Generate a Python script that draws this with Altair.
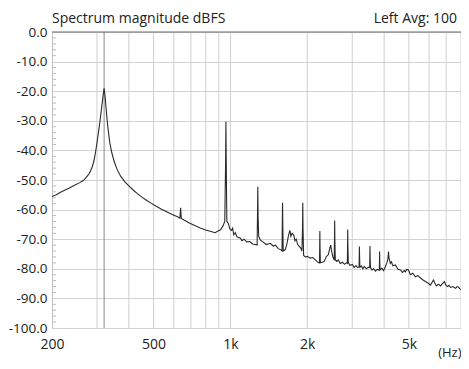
import altair as alt
import pandas as pd

# Spectrum (frequency in Hz, magnitude in dBFS)
freqs = [200, 208, 215, 225, 235, 245, 258, 265, 272, 280, 287, 292, 296, 300, 304, 308, 312, 316, 320,
         323, 326, 329, 333, 337, 343, 350, 360, 372, 386, 400, 415, 432, 450, 470, 490, 510, 535, 565,
         595, 620, 634, 638, 642, 660, 690, 725, 761, 800, 840, 870, 895, 915, 935, 950, 957, 960, 963,
         968, 980, 995, 1010, 1020, 1030, 1045, 1060, 1090, 1110, 1130, 1160, 1192, 1220, 1250, 1272,
         1277, 1280, 1283, 1290, 1310, 1340, 1380, 1432, 1470, 1500, 1540, 1575, 1592, 1596, 1600, 1604,
         1610, 1640, 1665, 1690, 1710, 1725, 1745, 1770, 1790, 1810, 1835, 1860, 1885, 1905, 1916, 1920,
         1924, 1935, 1964, 2000, 2055, 2100, 2150, 2200, 2233, 2237, 2240, 2243, 2250, 2290, 2330, 2370,
         2418, 2450, 2470, 2490, 2520, 2550, 2556, 2560, 2564, 2575, 2610, 2646, 2690, 2745, 2800, 2840,
         2870, 2876, 2880, 2884, 2895, 2940, 3004, 3050, 3100, 3150, 3190, 3195, 3200, 3205, 3215, 3260,
         3300, 3346, 3407, 3460, 3510, 3515, 3520, 3525, 3535, 3580, 3640, 3696, 3760, 3830, 3836, 3840,
         3844, 3855, 3920, 3980, 4040, 4100, 4140, 4160, 4180, 4230, 4271, 4330, 4427, 4530, 4633, 4720,
         4800, 4847, 4900, 4978, 5070, 5180, 5304, 5420, 5550, 5680, 5804, 5940, 6074, 6160, 6240, 6330,
         6412, 6530, 6648, 6770, 6892, 6990, 7081, 7180, 7274, 7440, 7610, 7720, 7820, 7920, 8000]
dbfs = [-55.6, -55.0, -54.2, -53.4, -52.6, -51.8, -50.8, -50.2, -49.2, -47.8, -45.8, -43.5, -40.8, -37.5,
        -34.0, -30.5, -26.5, -22.5, -19.0,
        -22.0, -26.0, -30.0, -34.0, -37.5, -40.8, -43.6, -46.5, -48.8, -50.6, -52.0, -53.3, -54.6, -55.8,
        -56.9, -57.9, -58.8, -59.8, -60.8,
        -61.7, -62.4, -62.9, -59.4, -63.0, -63.6, -64.5, -65.4, -66.2, -66.9, -67.4, -67.8, -67.2, -66.8,
        -65.5, -64.0, -45.0, -30.3, -45.0,
        -64.0, -64.6, -66.5, -67.0, -66.3, -68.5, -67.8, -69.2, -69.6, -70.5, -70.0, -70.9, -70.8, -71.6,
        -71.8, -72.0,
        -60.0, -52.3, -62.0, -69.0, -70.3, -70.9, -71.8, -71.4, -72.3, -72.0, -73.2, -73.6, -74.0, -66.0,
        -57.7, -66.0,
        -74.0, -73.5, -71.5, -68.5, -67.0, -69.0, -68.0, -68.6, -70.5, -70.0, -71.8, -72.4, -73.0, -74.0,
        -66.0, -57.7,
        -66.0, -75.5, -76.0, -75.8, -76.4, -76.2, -77.0, -77.8, -78.0, -72.0, -67.2, -72.0, -78.0, -77.8,
        -77.5, -76.0,
        -75.2, -73.0, -72.0, -74.0, -76.0, -77.0, -70.0, -63.7, -70.0, -77.0, -77.5, -77.0, -78.2, -77.8,
        -78.5, -78.0,
        -78.2, -72.0, -66.7, -72.0, -78.0, -78.8, -78.5, -79.6, -78.9, -79.6, -79.3, -76.0, -72.5, -76.0,
        -79.5, -79.0,
        -80.0, -79.2, -80.0, -79.5, -79.6, -76.0, -72.3, -76.0, -79.5, -80.4, -80.0, -80.8, -80.2, -80.5,
        -77.0, -74.2,
        -77.0, -80.4, -79.8, -80.6, -79.4, -78.0, -76.5, -74.2, -76.5, -78.2, -77.6, -79.0, -78.7, -80.2,
        -80.4, -81.2,
        -80.6, -81.0, -80.2, -80.4, -82.0, -81.5, -82.7, -82.3, -83.1, -83.8, -84.3, -84.8, -85.5, -84.6,
        -83.8, -85.0,
        -85.8, -85.2, -85.8, -85.0, -84.3, -85.6, -86.0, -85.6, -86.3, -86.0, -86.6, -86.0, -86.2, -86.8,
        -87.0]

x_label_values = [200, 500, 1000, 2000, 5000]
x_grid_values = [300, 400, 500, 600, 700, 800, 900, 1000, 2000, 3000, 4000, 5000, 6000, 7000, 8000]
marker_freq = [320]
y_tick_values = [0, -10, -20, -30, -40, -50, -60, -70, -80, -90, -100]
y_minor_values = [v for v in range(-98, 0, 2) if v % 10 != 0]
title_left = ["Spectrum magnitude dBFS"]
title_right = ["Left Avg: 100"]

W, H = 409, 296
FONT = "Open Sans"
FS = 14

spec = pd.DataFrame({"f": freqs, "db": dbfs})
xgrid = pd.DataFrame({"f": x_grid_values})
marker = pd.DataFrame({"f": marker_freq})
yminor = pd.DataFrame({"db": y_minor_values})
top = pd.DataFrame({"db": [0]})

xscale = alt.Scale(type="log", domain=[200, 8000], nice=False)
yscale = alt.Scale(domain=[-100, 0], nice=False)

xaxis = alt.Axis(values=x_label_values, grid=False, ticks=False, domain=False,
                 labelExpr="datum.value >= 1000 ? (datum.value / 1000) + 'k' : '' + datum.value",
                 labelFont=FONT, labelFontSize=FS, labelColor="#222", labelPadding=9,
                 labelFlush=False, labelOverlap=False,
                 title="(Hz)", titleFont=FONT, titleFontSize=13, titleFontWeight="normal",
                 titleColor="#222", titleAnchor="end", titleAlign="right", titleBaseline="middle",
                 titleX=W, titleY=24)
yaxis = alt.Axis(values=y_tick_values, grid=True, gridColor="#d2d2d2", gridWidth=1,
                 ticks=False, domain=True, domainColor="#c0c0c0",
                 labelExpr="datum.value == 0 ? '0.0' : '-' + format(abs(datum.value), '.1f')",
                 labelFont=FONT, labelFontSize=13.5, labelColor="#222", labelPadding=5,
                 title=None)

X = alt.X("f:Q", scale=xscale, axis=xaxis)
Y = alt.Y("db:Q", scale=yscale, axis=yaxis)

vgrid = alt.Chart(xgrid).mark_rule(color="#cfcfcf", strokeWidth=1).encode(x=X)
mark_line = alt.Chart(marker).mark_rule(color="#8a8a8a", strokeWidth=1).encode(x=X)
minor = alt.Chart(yminor).mark_rule(color="#bdbdbd", strokeWidth=1).encode(
    y=Y, x=alt.value(0), x2=alt.value(4))
topline = alt.Chart(top).mark_rule(color="#6a6a6a", strokeWidth=1).encode(y=Y)
line = alt.Chart(spec).mark_line(color="#2a2a2a", strokeWidth=1.1, clip=True).encode(x=X, y=Y)

t1 = alt.Chart(pd.DataFrame({"t": title_left})).mark_text(
    align="left", baseline="alphabetic", font=FONT, fontSize=FS, color="#222").encode(
    x=alt.value(0), y=alt.value(-9), text="t:N")
t2 = alt.Chart(pd.DataFrame({"t": title_right})).mark_text(
    align="right", baseline="alphabetic", font=FONT, fontSize=FS, color="#222").encode(
    x=alt.value(W - 4), y=alt.value(-9), text="t:N")

chart = alt.layer(vgrid, mark_line, minor, topline, line, t1, t2).properties(
    width=W, height=H,
    autosize=alt.AutoSizeParams(type="none"),
    padding={"left": 44, "top": 24, "right": 0, "bottom": 33},
    background="white",
).configure_view(stroke=None)

chart.save("out.html", embed_options={"renderer": "svg", "actions": False})
